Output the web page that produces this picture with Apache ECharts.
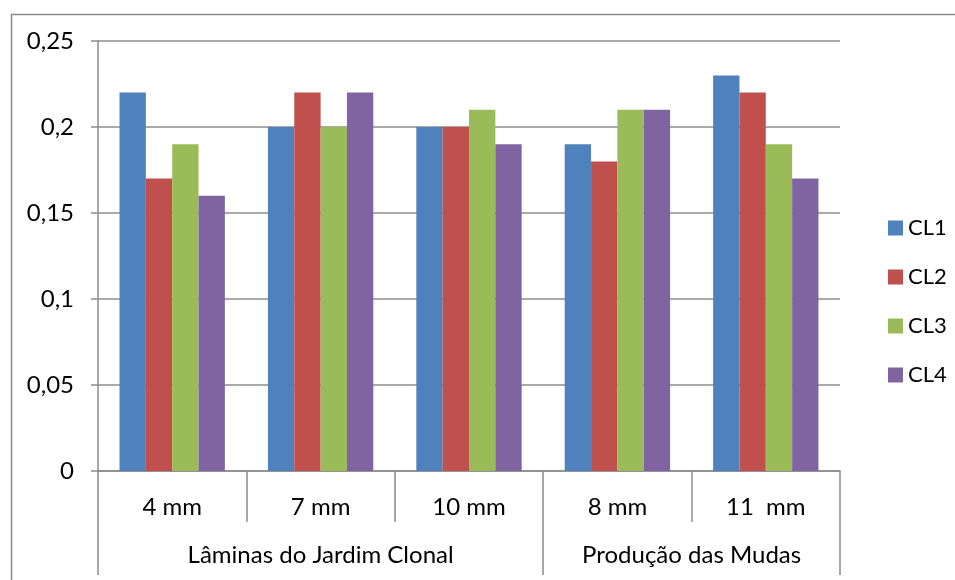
<!DOCTYPE html>
<html>
<head>
<meta charset="utf-8">
<script src="https://cdn.jsdelivr.net/npm/echarts@6/dist/echarts.min.js"></script>
<style>
html,body{margin:0;padding:0;background:#fff;}
#chart{width:955px;height:580px;}
</style>
</head>
<body>
<div id="chart"></div>
<script>
const categories = ['4 mm', '7 mm', '10 mm', '8 mm', '11  mm'];
const groups = ['Lâminas do Jardim Clonal', 'Produção das Mudas'];
const groupSpans = [3, 2];
const seriesNames = ['CL1', 'CL2', 'CL3', 'CL4'];
const CL1 = [0.22, 0.20, 0.20, 0.19, 0.23];
const CL2 = [0.17, 0.22, 0.20, 0.18, 0.22];
const CL3 = [0.19, 0.20, 0.21, 0.21, 0.19];
const CL4 = [0.16, 0.22, 0.19, 0.21, 0.17];
const colors = ['#4F81BD', '#C0504D', '#9BBB59', '#8064A2'];

const seriesData = [CL1, CL2, CL3, CL4];
const FONT = 'Lato';
const GRAY = '#8c8c8c';

// group boundaries and centers in category units
const groupBounds = [0];
groupSpans.forEach(s => groupBounds.push(groupBounds[groupBounds.length - 1] + s));
const groupCenters = groupSpans.map((s, i) => groupBounds[i] + s / 2);

const chart = echarts.init(document.getElementById('chart'), null, {renderer: 'canvas'});
chart.setOption({
  animation: false,
  backgroundColor: '#fff',
  textStyle: {fontFamily: FONT},
  graphic: [{
    type: 'rect', left: 9, top: 12, silent: true,
    shape: {width: 1000, height: 1000},
    style: {fill: 'none', stroke: GRAY, lineWidth: 1.5}
  }],
  grid: {left: 98, right: 115, top: 41, bottom: 109},
  legend: {
    orient: 'vertical', left: 883, top: 212,
    itemWidth: 15, itemHeight: 15, itemGap: 27,
    icon: 'rect',
    textStyle: {fontFamily: FONT, fontSize: 22, color: '#000', padding: [0, 0, 0, 0]},
    data: seriesNames
  },
  xAxis: [{
    type: 'category', data: categories, position: 'bottom',
    axisLine: {show: true, lineStyle: {color: GRAY, width: 1.5}},
    axisTick: {show: true, interval: 0, length: 51, lineStyle: {color: GRAY, width: 1.5}},
    axisLabel: {interval: 0, margin: 24, fontFamily: FONT, fontSize: 24, color: '#000'},
    splitLine: {show: false}
  }, {
    type: 'value', min: 0, max: categories.length, position: 'bottom',
    axisLine: {show: false},
    axisTick: {show: true, length: 104, customValues: groupBounds, lineStyle: {color: GRAY, width: 1.5}},
    axisLabel: {
      show: true, margin: 72, fontFamily: FONT, fontSize: 24, color: '#000',
      customValues: groupCenters,
      formatter: v => { const i = groupCenters.findIndex(c => Math.abs(c - v) < 1e-6); return i >= 0 ? groups[i] : ''; }
    },
    splitLine: {show: false}
  }],
  yAxis: {
    type: 'value', min: 0, max: 0.25, interval: 0.05,
    axisLine: {show: true, lineStyle: {color: GRAY, width: 1.5}},
    axisTick: {show: true, length: 7, lineStyle: {color: GRAY, width: 1.5}},
    axisLabel: {margin: 24, fontFamily: FONT, fontSize: 24, color: '#000',
      formatter: v => String(+v.toFixed(2)).replace('.', ',')},
    splitLine: {show: true, lineStyle: {color: GRAY, width: 1.5}}
  },
  series: seriesData.map((d, i) => ({
    name: seriesNames[i], type: 'bar', xAxisIndex: 0, data: d,
    barGap: '0%', barCategoryGap: '29%',
    itemStyle: {color: colors[i]}
  }))
});
</script>
</body>
</html>
